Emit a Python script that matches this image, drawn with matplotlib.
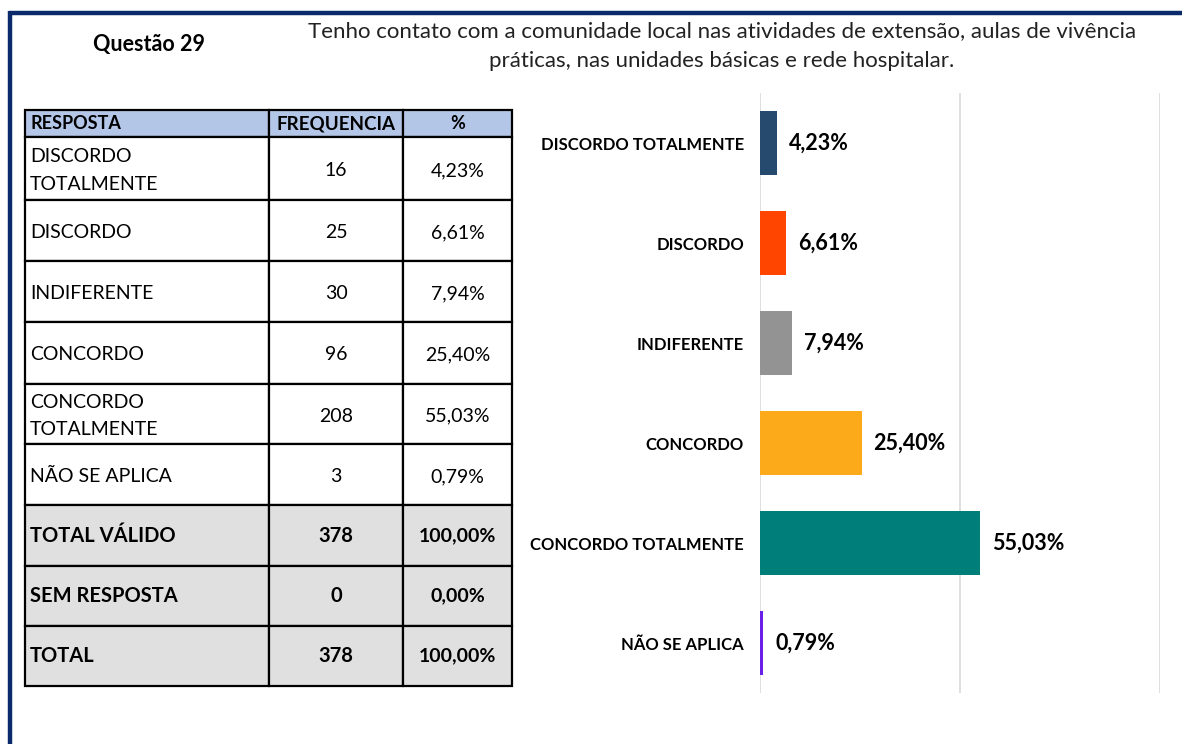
import matplotlib.pyplot as plt
from matplotlib.patches import Rectangle

plt.rcParams['font.family'] = ['Lato', 'DejaVu Sans']

categorias = ["DISCORDO TOTALMENTE", "DISCORDO", "INDIFERENTE", "CONCORDO",
              "CONCORDO TOTALMENTE", "NÃO SE APLICA"]
rotulos_tabela = ["DISCORDO\nTOTALMENTE", "DISCORDO", "INDIFERENTE", "CONCORDO",
                  "CONCORDO\nTOTALMENTE", "NÃO SE APLICA"]
frequencias = [16, 25, 30, 96, 208, 3]
percentuais = [4.23, 6.61, 7.94, 25.40, 55.03, 0.79]
totais = ["TOTAL VÁLIDO", "SEM RESPOSTA", "TOTAL"]
totais_freq = [378, 0, 378]
totais_perc = [100.00, 0.00, 100.00]
cores = ["#264a6e", "#ff4500", "#939393", "#fcaa1a", "#007f7a", "#6a1fe8"]


def pct(v):
    return f"{v:.2f}%".replace(".", ",")


fig = plt.figure(figsize=(11.82, 7.44), dpi=100)
W, H = 1182, 744

# fundo / moldura em coordenadas de pixel
bg = fig.add_axes([0, 0, 1, 1])
bg.set_xlim(0, W)
bg.set_ylim(H, 0)
bg.axis("off")
bg.plot([9, W], [12.5, 12.5], color="#0b2a6b", lw=3.2, solid_capstyle="butt")
bg.plot([10, 10], [11, H], color="#0b2a6b", lw=3.2, solid_capstyle="butt")

bg.text(149, 45, "Questão 29", fontsize=15.5, fontweight="bold", ha="center", va="center")
bg.text(722, 46, "Tenho contato com a comunidade local nas atividades de extensão, aulas de vivência\n"
        "práticas, nas unidades básicas e rede hospitalar.",
        fontsize=16, ha="center", va="center", linespacing=1.6, color="#222222")

# tabela
xs = [25, 269, 403, 512]
linhas = [110, 137, 200, 261, 322, 384, 444, 505, 566, 626, 686]

cab = ["RESPOSTA", "FREQUENCIA", "%"]
for j in range(3):
    bg.add_patch(Rectangle((xs[j], linhas[0]), xs[j + 1] - xs[j], linhas[1] - linhas[0],
                           facecolor="#b4c6e7", edgecolor="black", lw=1.6))
bg.text(xs[0] + 6, (linhas[0] + linhas[1]) / 2, cab[0], fontsize=13, fontweight="bold", va="center")
bg.text((xs[1] + xs[2]) / 2, (linhas[0] + linhas[1]) / 2, cab[1], fontsize=13.5, fontweight="bold",
        va="center", ha="center")
bg.text((xs[2] + xs[3]) / 2, (linhas[0] + linhas[1]) / 2, cab[2], fontsize=13, fontweight="bold",
        va="center", ha="center")

for i in range(6):
    y0, y1 = linhas[i + 1], linhas[i + 2]
    for j in range(3):
        bg.add_patch(Rectangle((xs[j], y0), xs[j + 1] - xs[j], y1 - y0,
                               facecolor="white", edgecolor="black", lw=1.6))
    yc = (y0 + y1) / 2 + 2
    bg.text(xs[0] + 5, yc, rotulos_tabela[i], fontsize=14, va="center", linespacing=1.75)
    bg.text((xs[1] + xs[2]) / 2, yc, str(frequencias[i]), fontsize=14, va="center", ha="center")
    bg.text((xs[2] + xs[3]) / 2, yc, pct(percentuais[i]), fontsize=14, va="center", ha="center")

for k in range(3):
    y0, y1 = linhas[7 + k], linhas[8 + k]
    for j in range(3):
        bg.add_patch(Rectangle((xs[j], y0), xs[j + 1] - xs[j], y1 - y0,
                               facecolor="#e0e0e0", edgecolor="black", lw=1.6))
    yc = (y0 + y1) / 2
    bg.text(xs[0] + 5, yc, totais[k], fontsize=14.5, fontweight="bold", va="center")
    bg.text((xs[1] + xs[2]) / 2, yc, str(totais_freq[k]), fontsize=14.5, fontweight="bold",
            va="center", ha="center")
    bg.text((xs[2] + xs[3]) / 2, yc, pct(totais_perc[k]), fontsize=14, fontweight="bold",
            va="center", ha="center")

# grafico de barras
ax = fig.add_axes([760 / W, 1 - 693 / H, 400 / W, 600 / H])
pos = list(range(len(categorias)))
ax.barh(pos, percentuais, height=0.64, color=cores)
ax.set_ylim(len(categorias) - 0.5, -0.5)
ax.set_xlim(0, 100)
ax.set_xticks([0, 50, 100])
ax.xaxis.grid(True, color="#d9d9d9", lw=1.2)
ax.set_axisbelow(True)
ax.tick_params(left=False, bottom=False, labelbottom=False)
ax.set_yticks(pos)
ax.set_yticklabels(categorias, fontsize=12, fontweight="bold")
ax.tick_params(axis="y", pad=8)
for s in ax.spines.values():
    s.set_visible(False)
for p, v in zip(pos, percentuais):
    ax.text(v + 3, p, pct(v), fontsize=15.5, fontweight="bold", va="center", ha="left")

fig.savefig("out.png", dpi=100)
